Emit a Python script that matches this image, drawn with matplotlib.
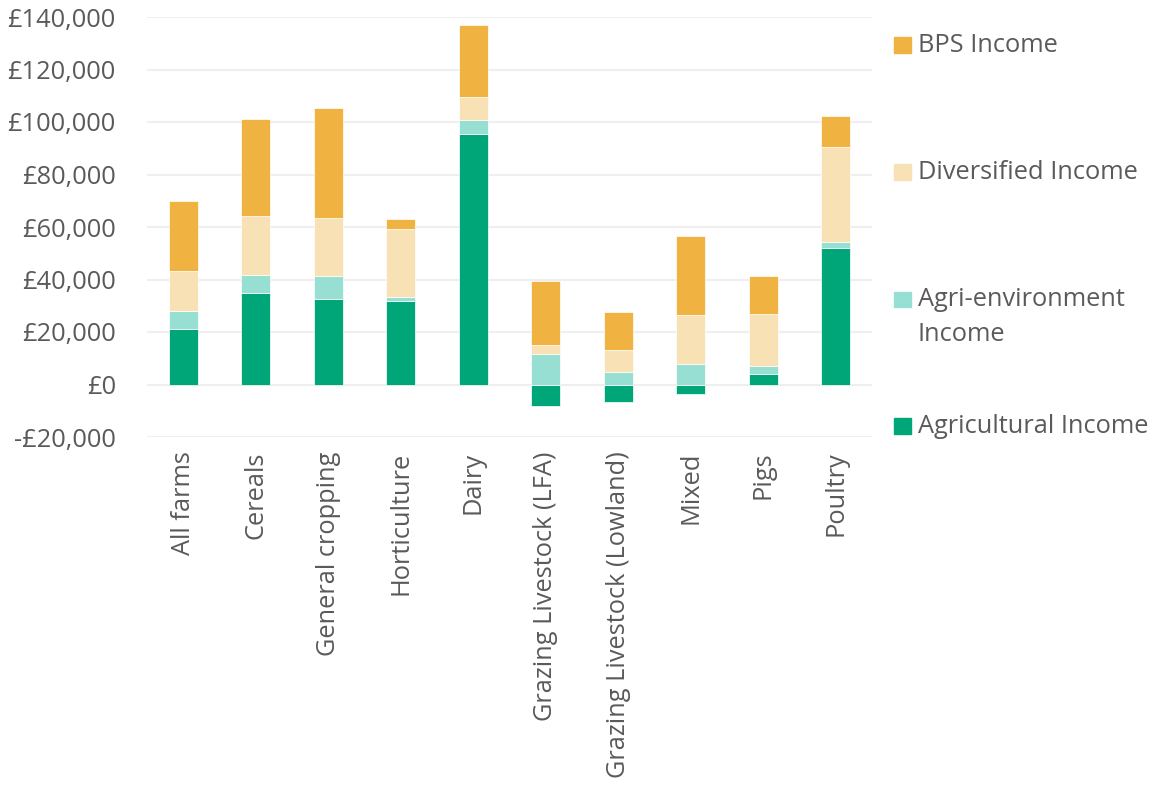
import matplotlib
matplotlib.use("Agg")
import matplotlib.pyplot as plt
from matplotlib.patches import Rectangle
from matplotlib.ticker import FuncFormatter, MultipleLocator
import numpy as np

plt.rcParams['font.family'] = ['Open Sans', 'DejaVu Sans']

categories = ["All farms", "Cereals", "General cropping", "Horticulture", "Dairy",
              "Grazing Livestock (LFA)", "Grazing Livestock (Lowland)", "Mixed", "Pigs", "Poultry"]
agricultural = [21200, 35000, 32400, 32000, 95600, -8200, -6500, -3800, 4100, 51850]
agri_env = [6900, 6850, 9050, 1300, 5350, 11700, 4850, 7900, 3050, 2550]
diversified = [15250, 22450, 22000, 25900, 8400, 3450, 8250, 18550, 19700, 36200]
bps = [26700, 37000, 42050, 3800, 27450, 24250, 14500, 30250, 14500, 11800]

series_names = ["Agricultural Income", "Agri-environment\nIncome", "Diversified Income", "BPS Income"]
series_vals = [agricultural, agri_env, diversified, bps]
colors = ["#00A677", "#98DFD3", "#F8E1B5", "#F0B342"]

text_color = "#5A5A5A"
FS = 18.3

fig = plt.figure(figsize=(11.64, 7.88), dpi=100)
ax = fig.add_axes([147/1164, 1-437/788, (872-147)/1164, (437-17)/788])

x = np.arange(len(categories))
pos_bottom = np.zeros(len(categories))
neg_bottom = np.zeros(len(categories))
for vals, col in zip(series_vals, colors):
    v = np.array(vals, dtype=float)
    bottoms = np.where(v >= 0, pos_bottom, neg_bottom)
    ax.bar(x, v, width=0.4, bottom=bottoms, color=col, edgecolor="white",
           linewidth=0.5, zorder=3)
    pos_bottom = pos_bottom + np.where(v >= 0, v, 0)
    neg_bottom = neg_bottom + np.where(v < 0, v, 0)

ax.set_xlim(-0.5, len(categories) - 0.5)
ax.set_ylim(-20000, 140000)
ax.yaxis.set_major_locator(MultipleLocator(20000))

def fmt(v, p):
    v = int(round(v))
    if v < 0:
        return "-£{:,}".format(-v)
    return "£{:,}".format(v)

ax.yaxis.set_major_formatter(FuncFormatter(fmt))
ax.grid(axis='y', color="#EFEFEF", linewidth=1.5, zorder=0)
ax.set_axisbelow(True)
for s in ax.spines.values():
    s.set_visible(False)
ax.tick_params(axis='both', length=0, colors=text_color, labelsize=FS)
ax.tick_params(axis='y', pad=22.5)
ax.set_xticks(x)
ax.set_xticklabels(categories, rotation=90, va='top', ha='center')
ax.tick_params(axis='x', pad=10.5)

# legend (top to bottom: BPS, Diversified, Agri-environment, Agricultural)
legend_baseline = [52.3, 179.3, 306.5, 433.3]
line_gap = 34.3
for name, col, yb in zip(series_names[::-1], colors[::-1], legend_baseline):
    fig.add_artist(Rectangle((894/1164, 1-(yb+1)/788), 17/1164, 16/788,
                             transform=fig.transFigure, color=col))
    for i, line in enumerate(name.split("\n")):
        fig.text(918/1164, 1-(yb + i*line_gap)/788, line, fontsize=FS, color=text_color,
                 va='baseline', ha='left')

fig.savefig("out.png", dpi=100)
